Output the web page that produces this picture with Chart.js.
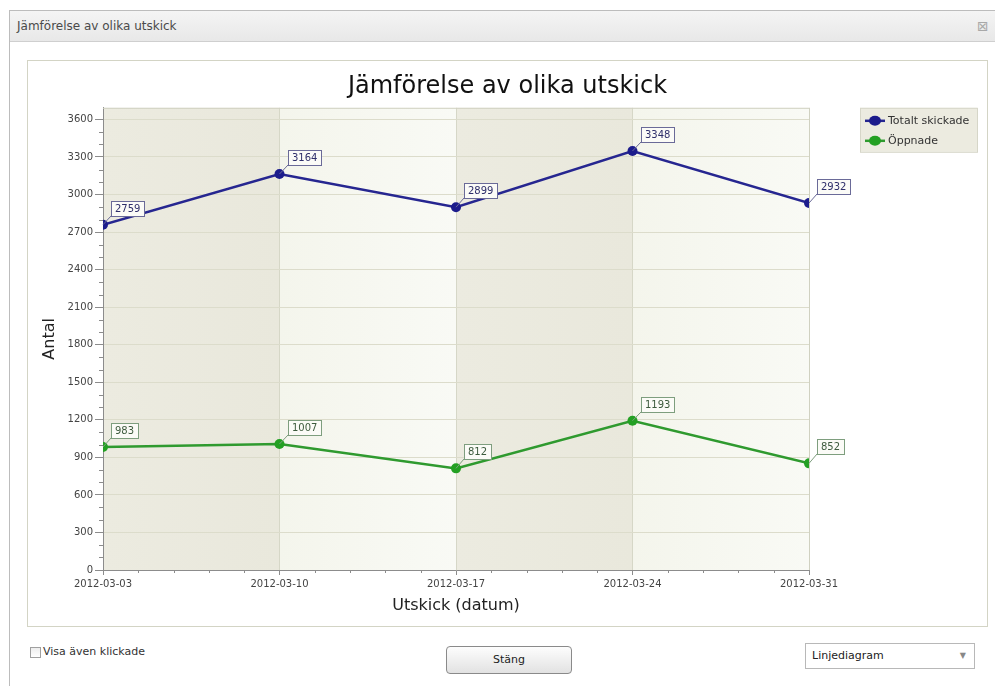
<!DOCTYPE html>
<html>
<head>
<meta charset="utf-8">
<script src="https://cdn.jsdelivr.net/npm/chart.js@4.4.1/dist/chart.umd.min.js"></script>
<style>
  body { margin:0; width:995px; height:686px; background:#fff; font-family:"DejaVu Sans", sans-serif; overflow:hidden; position:relative; }
  #win { position:absolute; left:9px; top:10px; width:990px; height:680px; border-left:1px solid #bcbcbc; border-top:1px solid #bcbcbc; }
  #bar { position:absolute; left:0; top:0; right:0; height:30px; background:linear-gradient(#f4f4f4,#e8e8e8); border-bottom:1px solid #cfcfcf; }
  #bar span { position:absolute; left:7px; top:8px; font-size:12px; color:#4a4a4a; }
  #close { position:absolute; left:977px; top:18px; font-size:14px; color:#a8a8a8; }
  #panel { position:absolute; left:27px; top:60px; width:959px; height:565px; border:1px solid #d3d4c5; }
  #panel canvas { position:absolute; left:0; top:0; }
  #chk { position:absolute; left:30px; top:647px; width:9px; height:9px; border:1px solid #a0a0a0; background:linear-gradient(#eee,#fff); }
  #chkTxt { position:absolute; left:43px; top:645px; font-size:11px; color:#333; }
  #btn { position:absolute; left:446px; top:646px; width:124px; height:26px; border:1px solid #8a8a8a; border-radius:4px; background:linear-gradient(#fdfdfd,#e2e2e2); font-size:11px; color:#222; text-align:center; line-height:26px; }
  #sel { position:absolute; left:805px; top:643px; width:168px; height:24px; border:1px solid #b8b8b8; background:#fff; font-size:11px; color:#222; line-height:24px; }
  #sel span { position:absolute; left:6px; }
  #sel i { position:absolute; right:8px; font-style:normal; font-size:8px; color:#888; }
</style>
</head>
<body>
<div id="win"><div id="bar"><span>Jämförelse av olika utskick</span></div></div>
<div id="close">⊠</div>
<div id="panel"><canvas id="chart" width="959" height="565"></canvas></div>
<div id="chk"></div><div id="chkTxt">Visa även klickade</div>
<div id="btn">Stäng</div>
<div id="sel"><span>Linjediagram</span><i>▼</i></div>
<script>
const dates = ['2012-03-03', '2012-03-10', '2012-03-17', '2012-03-24', '2012-03-31'];
const totalSent = [2759, 3164, 2899, 3348, 2932];
const opened = [983, 1007, 812, 1193, 852];
const yTicks = [0, 300, 600, 900, 1200, 1500, 1800, 2100, 2400, 2700, 3000, 3300, 3600];
const seriesNames = ['Totalt skickade', 'Öppnade'];

const lineColors = ['#262690', '#2f9a2f'];
const pointColors = ['#1c1c8c', '#23a023'];
const boxBorders = ['#6a6a98', '#7e9e7e'];
const boxText = ['#2e2e6a', '#3c5a3c'];

// alternating column bands, plot frame and minor ticks
const bands = {
  id: 'bands',
  beforeDraw(chart) {
    const { ctx, chartArea: a, scales: { x } } = chart;
    ctx.save();
    for (let i = 0; i < dates.length - 1; i++) {
      const x0 = x.getPixelForValue(i), x1 = x.getPixelForValue(i + 1);
      const g = ctx.createLinearGradient(x0, 0, x1, 0);
      if (i % 2 === 0) { g.addColorStop(0, '#ecebe0'); g.addColorStop(1, '#e9e8dc'); }
      else { g.addColorStop(0, '#f4f5ec'); g.addColorStop(1, '#f9faf5'); }
      ctx.fillStyle = g;
      ctx.fillRect(x0, a.top, x1 - x0, a.bottom - a.top);
    }
    ctx.restore();
  },
  beforeDatasetsDraw(chart) {
    const { ctx, chartArea: a, scales: { x, y } } = chart;
    ctx.save();
    ctx.strokeStyle = '#d0d1c1';
    ctx.lineWidth = 1;
    ctx.beginPath();
    ctx.moveTo(a.left, a.top + 0.5); ctx.lineTo(a.right + 0.5, a.top + 0.5); ctx.lineTo(a.right + 0.5, a.bottom);
    ctx.stroke();
    ctx.strokeStyle = '#8c8c8c';
    ctx.beginPath();
    for (let v = 100; v < 3700; v += 100) {
      if (v % 300 === 0) continue;
      const py = Math.round(y.getPixelForValue(v)) + 0.5;
      ctx.moveTo(a.left - 4, py); ctx.lineTo(a.left, py);
    }
    for (let i = 0; i < dates.length - 1; i++) {
      const x0 = x.getPixelForValue(i), x1 = x.getPixelForValue(i + 1);
      for (let k = 1; k < 5; k++) {
        const px = Math.round(x0 + (x1 - x0) * k / 5) + 0.5;
        ctx.moveTo(px, a.bottom); ctx.lineTo(px, a.bottom + 3);
      }
    }
    ctx.stroke();
    ctx.restore();
  }
};

// value boxes next to each point
const valueBoxes = {
  id: 'valueBoxes',
  afterDatasetsDraw(chart) {
    const ctx = chart.ctx;
    ctx.save();
    ctx.font = '10px "DejaVu Sans"';
    ctx.textBaseline = 'middle';
    chart.data.datasets.forEach((ds, i) => {
      chart.getDatasetMeta(i).data.forEach((pt, j) => {
        const txt = String(ds.data[j]);
        const w = Math.round(ctx.measureText(txt).width) + 8, h = 15;
        const bx = Math.round(pt.x) + 8, by = Math.round(pt.y) - 9 - h;
        ctx.strokeStyle = boxBorders[i];
        ctx.lineWidth = 1;
        ctx.beginPath(); ctx.moveTo(pt.x, pt.y); ctx.lineTo(bx, by + h); ctx.stroke();
        ctx.fillStyle = '#fbfbf7';
        ctx.fillRect(bx, by, w, h);
        ctx.strokeRect(bx + 0.5, by + 0.5, w, h);
        ctx.fillStyle = boxText[i];
        ctx.fillText(txt, bx + 4, by + h / 2 + 1);
      });
    });
    ctx.restore();
  }
};

// legend box at the upper right
const legendBox = {
  id: 'legendBox',
  afterDraw(chart) {
    const { ctx, chartArea: a } = chart;
    const lx = a.right + 51, ly = a.top, lw = 117, lh = 44;
    ctx.save();
    ctx.fillStyle = '#ecebe0';
    ctx.fillRect(lx, ly, lw, lh);
    ctx.strokeStyle = '#d6d6c8';
    ctx.strokeRect(lx + 0.5, ly + 0.5, lw, lh);
    ctx.font = '11px "DejaVu Sans"';
    ctx.textBaseline = 'middle';
    chart.data.datasets.forEach((ds, i) => {
      const cy = ly + 13 + i * 20;
      ctx.strokeStyle = lineColors[i];
      ctx.lineWidth = 2.5;
      ctx.beginPath(); ctx.moveTo(lx + 5, cy); ctx.lineTo(lx + 25, cy); ctx.stroke();
      ctx.fillStyle = pointColors[i];
      ctx.beginPath(); ctx.ellipse(lx + 15, cy, 6, 5, 0, 0, Math.PI * 2); ctx.fill();
      ctx.fillStyle = '#333';
      ctx.fillText(ds.label, lx + 28, cy);
    });
    ctx.restore();
  }
};

new Chart(document.getElementById('chart'), {
  type: 'line',
  data: {
    labels: dates,
    datasets: [
      { label: seriesNames[0], data: totalSent },
      { label: seriesNames[1], data: opened }
    ].map((d, i) => Object.assign(d, {
      borderColor: lineColors[i],
      borderWidth: 2.5,
      pointBackgroundColor: pointColors[i],
      pointBorderWidth: 0,
      pointRadius: 5,
      tension: 0,
      clip: 0
    }))
  },
  options: {
    responsive: false,
    animation: false,
    devicePixelRatio: 1,
    layout: { padding: 0 },
    plugins: {
      legend: { display: false },
      tooltip: { enabled: false },
      title: {
        display: true,
        text: 'Jämförelse av olika utskick',
        color: '#111',
        font: { family: 'DejaVu Sans', size: 24, weight: 'normal' },
        padding: { top: 11, bottom: 7 }
      }
    },
    scales: {
      x: {
        offset: false,
        afterFit(s) { s.height = 56; },
        grid: { color: '#d6d7c7', tickLength: 5, tickColor: '#8c8c8c' },
        border: { color: '#8c8c8c' },
        ticks: { color: '#444', font: { family: 'DejaVu Sans', size: 10 }, padding: 3, maxRotation: 0, autoSkip: false },
        title: { display: true, text: 'Utskick (datum)', color: '#222', font: { family: 'DejaVu Sans', size: 16 }, padding: { top: 0, bottom: 11 } }
      },
      y: {
        min: 0,
        max: 3693,
        afterFit(s) { s.width = 75; },
        afterBuildTicks(s) { s.ticks = yTicks.map(v => ({ value: v })); },
        grid: { color: '#dcdccb', tickLength: 8, tickColor: '#8c8c8c' },
        border: { color: '#8c8c8c' },
        ticks: { color: '#444', font: { family: 'DejaVu Sans', size: 10 }, padding: 2, callback: v => String(v) },
        title: { display: true, text: 'Antal', color: '#222', font: { family: 'DejaVu Sans', size: 16 }, padding: { top: 12, bottom: 0 } }
      },
      side: {
        type: 'linear',
        position: 'right',
        display: true,
        afterFit(s) { s.width = 178; },
        grid: { display: false, drawTicks: false },
        border: { display: false },
        ticks: { display: false }
      }
    }
  },
  plugins: [bands, valueBoxes, legendBox]
});
</script>
</body>
</html>
